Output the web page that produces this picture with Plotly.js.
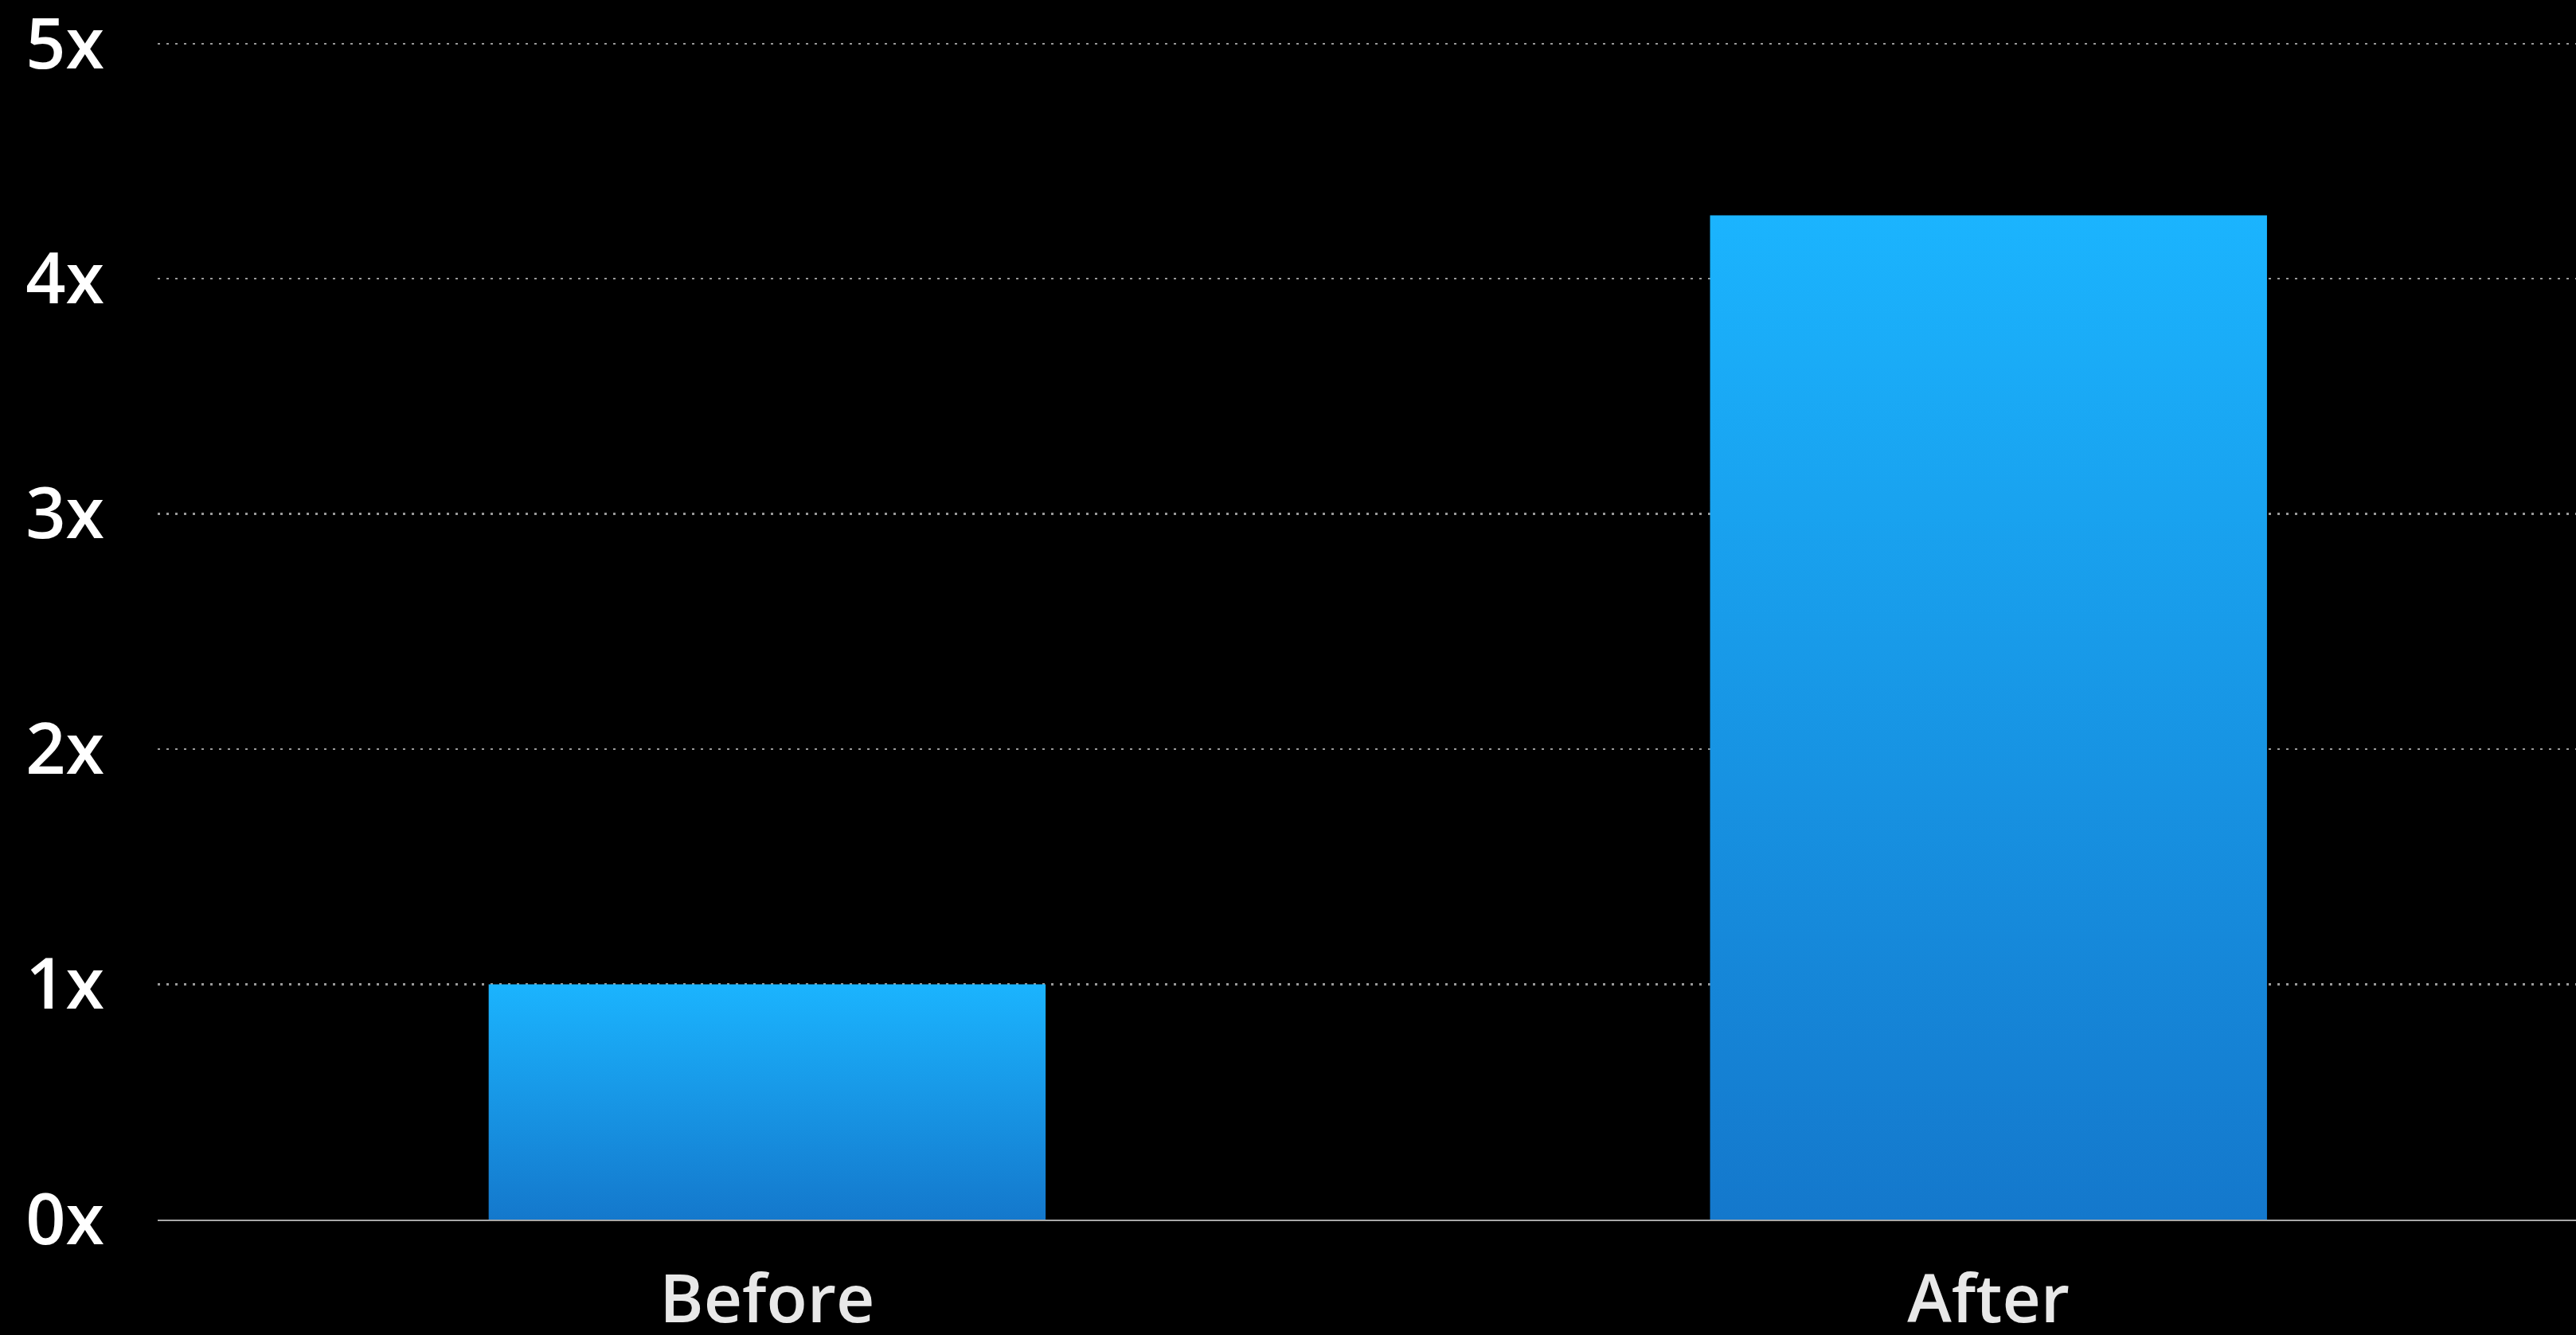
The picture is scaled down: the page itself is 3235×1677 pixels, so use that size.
<!DOCTYPE html>
<html>
<head>
<meta charset="utf-8">
<script src="https://cdn.plot.ly/plotly-3.0.1.min.js"></script>
<style>
  html, body { margin: 0; padding: 0; background: #000; }
  #chart { width: 3235px; height: 1677px; }
</style>
</head>
<body>
<div id="chart"></div>
<script>
const categories = ["Before", "After"];
const values = [1.0, 4.27];
const tickValues = [0, 1, 2, 3, 4, 5];
const tickLabels = ["0x", "1x", "2x", "3x", "4x", "5x"];

const trace = {
  type: "bar",
  x: categories,
  y: values,
  width: 0.456,
  marker: { color: "#1A9FEA", line: { width: 0 } },
  hoverinfo: "none"
};

const fam = "Open Sans, Noto Sans, sans-serif";

const layout = {
  width: 3235,
  height: 1677,
  paper_bgcolor: "#000000",
  plot_bgcolor: "#000000",
  margin: { l: 198, r: 0, t: 40, b: 145, pad: 0 },
  showlegend: false,
  font: { family: fam, color: "#ffffff" },
  xaxis: {
    type: "category",
    range: [-0.499, 1.481],
    showgrid: false,
    zeroline: false,
    showline: true,
    linecolor: "#a8a8a8",
    linewidth: 2,
    ticks: "",
    ticklabelstandoff: 26,
    ticklabeloverflow: "allow",
    tickfont: { size: 84, color: "#e8e8e8", family: fam, weight: 600 }
  },
  yaxis: {
    range: [0, 5.05],
    tickmode: "array",
    tickvals: tickValues,
    ticktext: tickLabels,
    showgrid: true,
    gridcolor: "#9a9a9a",
    gridwidth: 2.5,
    griddash: "3px,8px",
    zeroline: false,
    showline: false,
    ticks: "",
    ticklabelstandoff: 66,
    ticklabeloverflow: "allow",
    tickfont: { size: 88, color: "#ffffff", family: fam, weight: 600 }
  }
};

Plotly.newPlot("chart", [trace], layout, { staticPlot: true, displayModeBar: false }).then(function (gd) {
  const svgNS = "http://www.w3.org/2000/svg";
  const svg = gd.querySelector("svg.main-svg");
  let defs = svg.querySelector("defs");
  if (!defs) { defs = document.createElementNS(svgNS, "defs"); svg.insertBefore(defs, svg.firstChild); }
  const grad = document.createElementNS(svgNS, "linearGradient");
  grad.setAttribute("id", "barGrad");
  grad.setAttribute("x1", "0"); grad.setAttribute("y1", "0");
  grad.setAttribute("x2", "0"); grad.setAttribute("y2", "1");
  const stops = [["0%", "#1BB4FE"], ["100%", "#1478CC"]];
  stops.forEach(function (s) {
    const st = document.createElementNS(svgNS, "stop");
    st.setAttribute("offset", s[0]);
    st.setAttribute("stop-color", s[1]);
    grad.appendChild(st);
  });
  defs.appendChild(grad);
  gd.querySelectorAll(".barlayer .point path").forEach(function (p) {
    p.style.fill = "url(#barGrad)";
  });
});
</script>
</body>
</html>
